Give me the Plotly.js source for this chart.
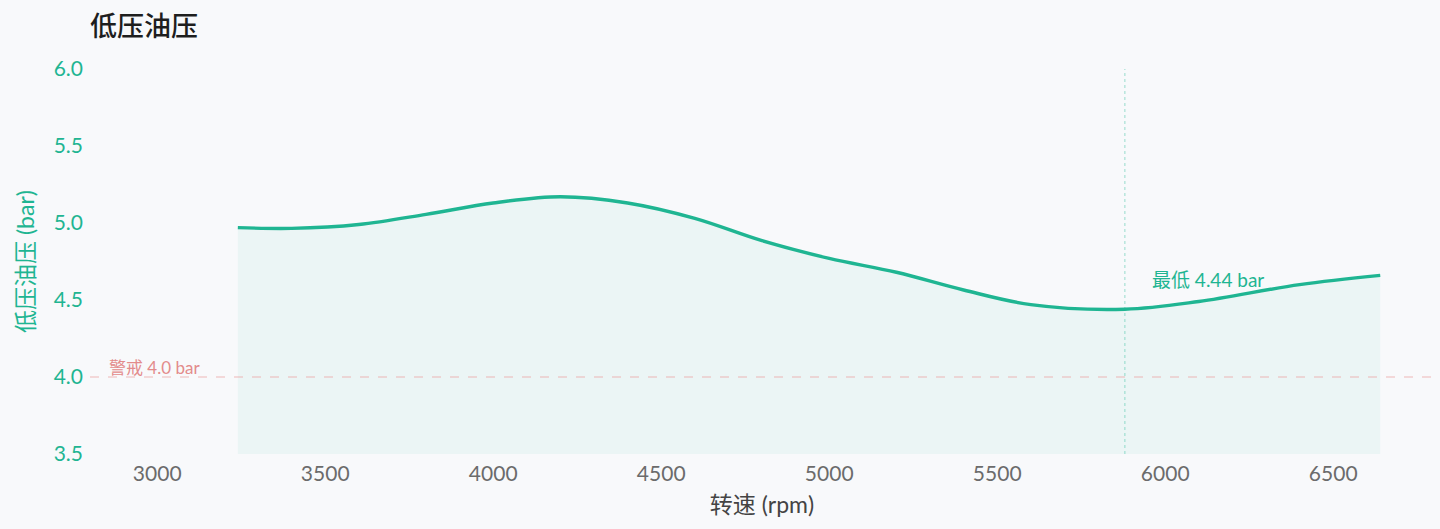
<!DOCTYPE html>
<html>
<head>
<meta charset="utf-8">
<script src="https://cdn.plot.ly/plotly-3.0.1.min.js"></script>
<style>
html,body{margin:0;padding:0;background:#f8f9fb;}
#chart{width:1440px;height:529px;}
</style>
</head>
<body>
<div id="chart"></div>
<script>
// Data
const rpm = [3240, 3400, 3600, 3800, 4000, 4200, 4400, 4600, 4800, 5000, 5200, 5400, 5600, 5880, 6100, 6400, 6640];
const pressure = [4.97, 4.965, 4.99, 5.056, 5.13, 5.17, 5.13, 5.03, 4.885, 4.77, 4.68, 4.565, 4.47, 4.44, 4.49, 4.60, 4.66];
const warnLevel = 4.0;
const minRpm = 5880;
const minValue = 4.44;
const xTicks = [3000, 3500, 4000, 4500, 5000, 5500, 6000, 6500];
const yTicks = [3.5, 4.0, 4.5, 5.0, 5.5, 6.0];

const teal = '#1fb592';
const font = 'Lato, "Noto Sans CJK SC", sans-serif';

const trace = {
  x: rpm, y: pressure, type: 'scatter', mode: 'lines',
  line: {color: teal, width: 3.4, shape: 'spline', smoothing: 1},
  fill: 'tozeroy', fillcolor: 'rgba(31,181,146,0.06)',
  hoverinfo: 'x+y'
};

const layout = {
  width: 1440, height: 529,
  paper_bgcolor: '#f8f9fb', plot_bgcolor: '#f8f9fb',
  margin: {l: 90, r: 6, t: 69, b: 75},
  showlegend: false,
  font: {family: font},
  title: {text: '低压油压', x: 0, xref: 'paper', xanchor: 'left', y: 0.95, yanchor: 'middle',
          font: {family: '"Noto Sans CJK SC", sans-serif', size: 27, color: '#1e1e1e', weight: 500}},
  xaxis: {
    range: [2800, 6800], tickvals: xTicks, ticktext: xTicks.map(String),
    showgrid: false, zeroline: false, showline: false, ticks: '',
    ticklabelstandoff: 5,
    tickfont: {family: font, size: 21, color: '#6b6b6b'},
    title: {text: '转速 (rpm)', standoff: 12, font: {family: font, size: 23, color: '#444444'}}
  },
  yaxis: {
    range: [3.5, 6.0], tickvals: yTicks, ticktext: yTicks.map(v => v.toFixed(1)),
    showgrid: false, zeroline: false, showline: false, ticks: '',
    ticklabelstandoff: 6,
    tickfont: {family: font, size: 21, color: teal},
    title: {text: '低压油压 (bar)', standoff: 12, font: {family: font, size: 23, color: teal}}
  },
  shapes: [
    {type: 'line', xref: 'paper', x0: 0, x1: 1, yref: 'y', y0: warnLevel, y1: warnLevel,
     line: {color: 'rgba(232,150,150,0.45)', width: 1.3, dash: 'dash'}},
    {type: 'line', xref: 'x', x0: minRpm, x1: minRpm, yref: 'paper', y0: 0, y1: 1,
     line: {color: 'rgba(31,181,146,0.45)', width: 1, dash: 'dot'}}
  ],
  annotations: [
    {x: 2850, y: warnLevel + 0.06, xref: 'x', yref: 'y', xanchor: 'left', yanchor: 'middle',
     text: '警戒 ' + warnLevel.toFixed(1) + ' bar', showarrow: false,
     font: {family: font, size: 17, color: '#e38b8b'}},
    {x: minRpm + 75, y: minValue + 0.195, xref: 'x', yref: 'y', xanchor: 'left', yanchor: 'middle',
     text: '最低 ' + minValue.toFixed(2) + ' bar', showarrow: false,
     font: {family: font, size: 19, color: teal}}
  ]
};

Plotly.newPlot('chart', [trace], layout, {displayModeBar: false, responsive: false});
</script>
</body>
</html>
